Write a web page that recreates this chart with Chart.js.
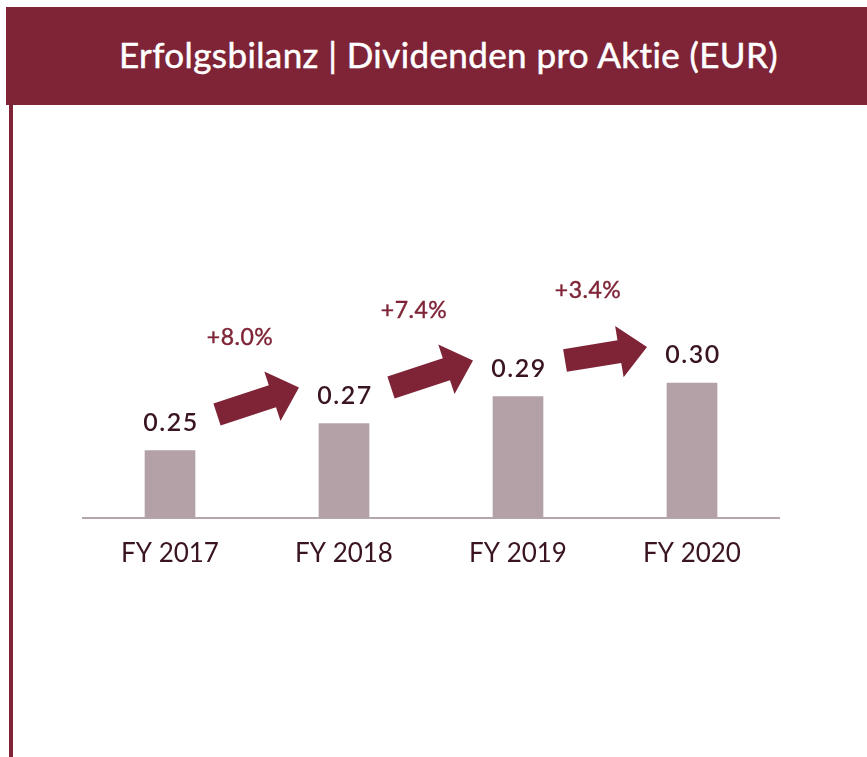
<!DOCTYPE html>
<html>
<head>
<meta charset="utf-8">
<script src="https://cdn.jsdelivr.net/npm/chart.js@4"></script>
<style>
  html, body { margin: 0; padding: 0; background: #fff; }
  body { width: 867px; height: 757px; position: relative; overflow: hidden; font-family: "Lato", sans-serif; }
  .header {
    position: absolute; left: 6px; top: 7px; width: 861px; height: 98px;
    background: #7f2437; color: #fff;
  }
  .header h1 {
    margin: 0; position: absolute; left: 113px; top: 47px; white-space: nowrap;
    transform: translateY(-50%);
    font-size: 35px; font-weight: 400; letter-spacing: 0.4px;
    -webkit-text-stroke: 0.5px #fff;
  }
  .sidebar { position: absolute; left: 9px; top: 105px; width: 4px; height: 652px; background: #7f2437; }
  .wrap { position: absolute; left: 0; top: 0; width: 867px; height: 757px; }
</style>
</head>
<body>
<div class="header"><h1>Erfolgsbilanz | Dividenden pro Aktie (EUR)</h1></div>
<div class="sidebar"></div>
<div class="wrap"><canvas id="divChart"></canvas></div>
<script>
const years = ["FY 2017", "FY 2018", "FY 2019", "FY 2020"];
const dividends = [0.25, 0.27, 0.29, 0.30];
const growthLabels = ["+8.0%", "+7.4%", "+3.4%"];

const MAROON = "#7f2437";
const DARK = "#3a1520";

function drawArrow(ctx, x0, y0, x1, y1) {
  const dx = x1 - x0, dy = y1 - y0;
  const len = Math.hypot(dx, dy);
  const ux = dx / len, uy = dy / len;
  const nx = -uy, ny = ux;
  const sw = 11.5, hw = 26, hl = 28;
  const bx = x1 - ux * hl, by = y1 - uy * hl;
  ctx.beginPath();
  ctx.moveTo(x0 + nx * sw, y0 + ny * sw);
  ctx.lineTo(bx + nx * sw, by + ny * sw);
  ctx.lineTo(bx + nx * hw, by + ny * hw);
  ctx.lineTo(x1, y1);
  ctx.lineTo(bx - nx * hw, by - ny * hw);
  ctx.lineTo(bx - nx * sw, by - ny * sw);
  ctx.lineTo(x0 - nx * sw, y0 - ny * sw);
  ctx.closePath();
  ctx.fill();
}

const annotations = {
  id: "annotations",
  afterDatasetsDraw(chart) {
    const ctx = chart.ctx;
    const meta = chart.getDatasetMeta(0);
    const yScale = chart.scales.y;
    ctx.save();
    ctx.textAlign = "center";
    ctx.textBaseline = "middle";
    // value labels
    ctx.fillStyle = DARK;
    ctx.font = "600 25px Lato";
    ctx.letterSpacing = "1.5px";
    meta.data.forEach((bar, i) => {
      ctx.fillText(dividends[i].toFixed(2), bar.x + 1, yScale.getPixelForValue(dividends[i]) - 28);
    });
    // arrows + growth labels
    ctx.fillStyle = MAROON;
    ctx.strokeStyle = MAROON;
    ctx.lineWidth = 0.4;
    ctx.font = "23px Lato";
    ctx.letterSpacing = "0.5px";
    for (let i = 0; i < growthLabels.length; i++) {
      const x0 = meta.data[i].x + 47;
      const x1 = meta.data[i + 1].x - 45;
      const y0 = yScale.getPixelForValue(dividends[i]) - 36;
      const y1 = yScale.getPixelForValue(dividends[i + 1]) - 36;
      drawArrow(ctx, x0, y0, x1, y1);
      const lx = (x0 + x1) / 2 - 18, ly = (y0 + y1) / 2 - 63;
      ctx.fillText(growthLabels[i], lx, ly);
      ctx.strokeText(growthLabels[i], lx, ly);
    }
    ctx.restore();
  },
};

new Chart(document.getElementById("divChart"), {
  type: "bar",
  data: {
    labels: years,
    datasets: [{
      data: dividends,
      backgroundColor: "#b3a1a7",
      barThickness: 50,
    }],
  },
  plugins: [annotations],
  options: {
    responsive: true,
    maintainAspectRatio: false,
    animation: false,
    layout: { padding: { left: 83, right: 88, top: 194, bottom: 0 } },
    plugins: { legend: { display: false }, tooltip: { enabled: false } },
    scales: {
      y: { display: false, min: 0.2, max: 0.44 },
      x: {
        grid: { display: false },
        border: { display: true, color: "#b5a6ab", width: 2 },
        ticks: { color: DARK, font: { family: "Lato", size: 26 }, padding: 12 },
        afterFit(axis) { axis.height = 239; },
      },
    },
  },
});
</script>
</body>
</html>
